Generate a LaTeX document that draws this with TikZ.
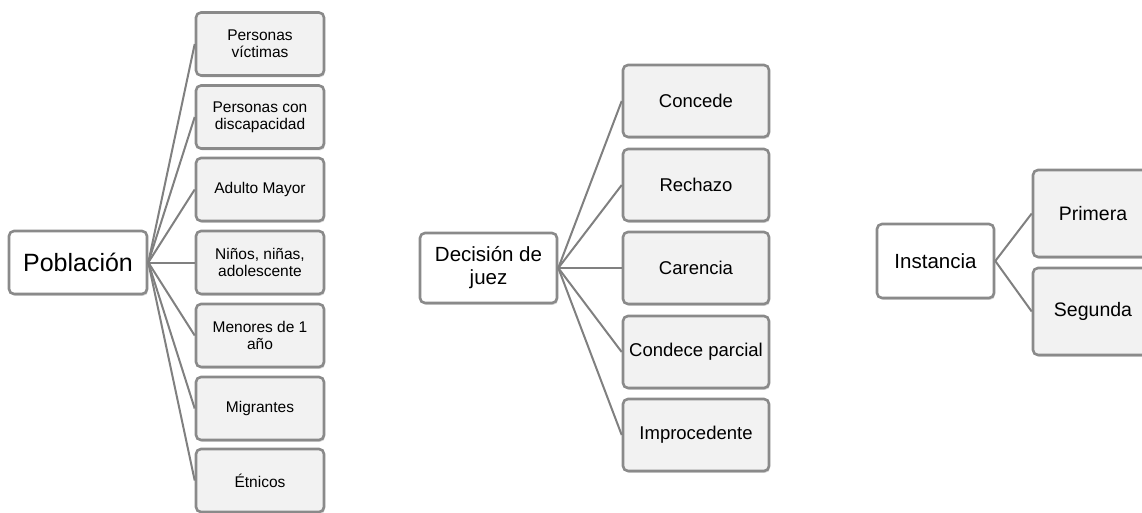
\documentclass[tikz,border=0pt]{standalone}
\usepackage{fontspec}
\setmainfont{Liberation Sans}
\usetikzlibrary{shadows}
\definecolor{boxgray}{HTML}{8A8A8A}
\definecolor{leafgray}{HTML}{F2F2F2}
\definecolor{linegray}{HTML}{808080}
\begin{document}
\begin{tikzpicture}[x=1pt,y=-1pt,
  box/.style={draw=boxgray, line width=2.6pt, rounded corners=5pt, align=center,
    inner sep=0pt, drop shadow={shadow xshift=1.2pt, shadow yshift=-1.8pt, opacity=0.3}},
  rootbox/.style={box, fill=white},
  leafbox/.style={box, fill=leafgray},
  lsmall/.style={leafbox, minimum width=128pt, minimum height=63pt, font=\fontsize{15.5}{17}\selectfont},
  lmid/.style={leafbox, minimum width=146pt, minimum height=72pt, font=\fontsize{18.5}{21}\selectfont},
  lbig/.style={leafbox, minimum width=120pt, minimum height=87pt, font=\fontsize{19.5}{22}\selectfont},
  conn/.style={draw=linegray, line width=2pt}]
\useasboundingbox (0,0) rectangle (1142,512);

% Poblacion group
\node[rootbox, minimum width=138pt, minimum height=63pt, font=\fontsize{25}{28}\selectfont] (pob) at (78,262.5) {Población};
\node[lsmall] (p1) at (260,44)  {Personas\\víctimas};
\node[lsmall] (p2) at (260,117) {Personas con\\discapacidad};
\node[lsmall] (p3) at (260,189.5) {Adulto Mayor};
\node[lsmall] (p4) at (260,262.5) {Niños, niñas,\\adolescente};
\node[lsmall] (p5) at (260,335.5) {Menores de 1\\año};
\node[lsmall] (p6) at (260,408.5) {Migrantes};
\node[lsmall] (p7) at (260,480.5) {Étnicos};
\foreach \c in {p1,p2,p3,p4,p5,p6,p7}
  \draw[conn] (pob.east) -- (\c.west);

% Decision group
\node[rootbox, minimum width=137pt, minimum height=70pt, font=\fontsize{20.5}{23}\selectfont] (dec) at (488.5,268) {Decisión de\\juez};
\node[lmid] (d1) at (696,101) {Concede};
\node[lmid] (d2) at (696,185) {Rechazo};
\node[lmid] (d3) at (696,268) {Carencia};
\node[lmid] (d4) at (696,352) {Condece parcial};
\node[lmid] (d5) at (696,435) {Improcedente};
\foreach \c in {d1,d2,d3,d4,d5}
  \draw[conn] (dec.east) -- (\c.west);

% Instancia group
\node[rootbox, minimum width=117pt, minimum height=74pt, font=\fontsize{20.5}{23}\selectfont] (ins) at (935.5,261) {Instancia};
\node[lbig] (i1) at (1093,213.5) {Primera};
\node[lbig] (i2) at (1093,311.5) {Segunda};
\foreach \c in {i1,i2}
  \draw[conn] (ins.east) -- (\c.west);
\end{tikzpicture}
\end{document}
